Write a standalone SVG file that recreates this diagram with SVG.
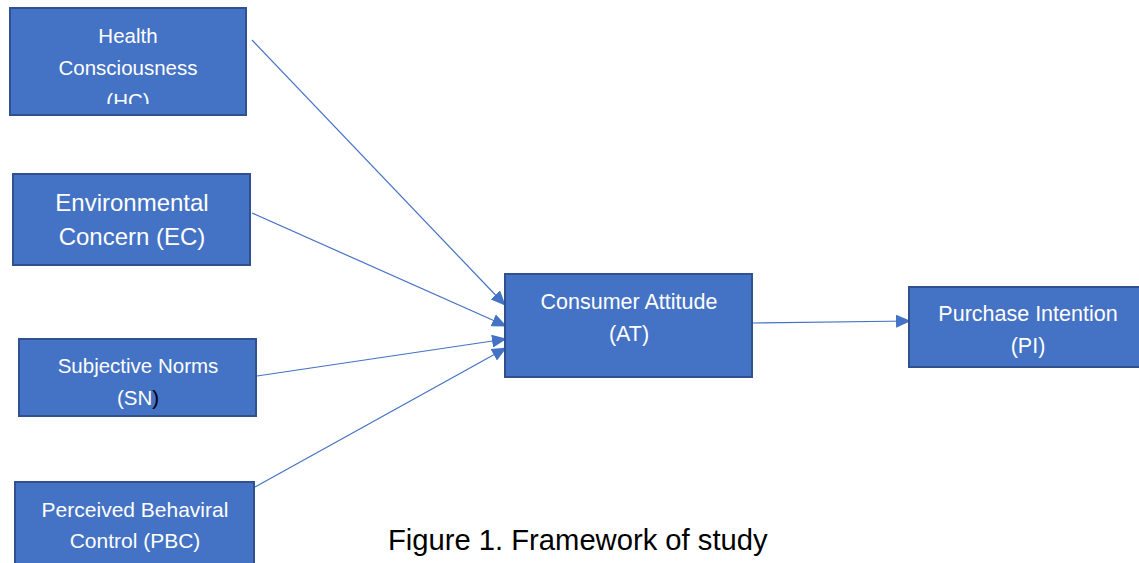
<svg xmlns="http://www.w3.org/2000/svg" width="1139" height="563" viewBox="0 0 1139 563">
  <style>
    .box { fill: #4472C4; stroke: #2F528F; stroke-width: 2; }
    .lbl { font-family: "Liberation Sans", Arial, sans-serif; fill: #ffffff; text-anchor: middle; font-size: 20.5px; }
    .conn { stroke: #4472C4; stroke-width: 1.2; fill: none; marker-end: url(#arr); }
    .cap { font-family: "Liberation Sans", Arial, sans-serif; fill: #000000; font-size: 29.2px; }
  </style>
  <defs>
    <marker id="arr" markerWidth="15" markerHeight="13" refX="14" refY="6.5" orient="auto" markerUnits="userSpaceOnUse">
      <path d="M0,0 L15,6.5 L0,13 Z" fill="#4472C4"/>
    </marker>
    <clipPath id="hcclip"><rect x="10" y="8" width="236" height="96"/></clipPath>
  </defs>
  <rect width="1139" height="563" fill="#ffffff"/>

  <g id="connectors">
    <line class="conn" x1="252" y1="40" x2="505" y2="305"/>
    <line class="conn" x1="252" y1="213" x2="506" y2="326"/>
    <line class="conn" x1="257" y1="376" x2="506" y2="339"/>
    <line class="conn" x1="255" y1="487" x2="506" y2="348"/>
    <line class="conn" x1="752" y1="323" x2="910" y2="321"/>
  </g>

  <g id="hc">
    <rect class="box" x="10" y="8" width="236" height="107"/>
    <g clip-path="url(#hcclip)">
      <text class="lbl" x="128" y="43">Health</text>
      <text class="lbl" x="128" y="75">Consciousness</text>
      <text class="lbl" x="128" y="108">(HC)</text>
    </g>
  </g>

  <g id="ec">
    <rect class="box" x="13" y="174" width="237" height="91"/>
    <text class="lbl" x="132" y="211" style="font-size:24px">Environmental</text>
    <text class="lbl" x="132" y="245" style="font-size:24px">Concern (EC)</text>
  </g>

  <g id="sn">
    <rect class="box" x="19" y="339" width="237" height="77"/>
    <text class="lbl" x="138" y="373">Subjective Norms</text>
    <text class="lbl" x="138" y="405">(SN<tspan fill="#000000">)</tspan></text>
  </g>

  <g id="pbc">
    <rect class="box" x="15" y="482" width="239" height="90"/>
    <text class="lbl" x="135" y="517" style="font-size:21px">Perceived Behaviral</text>
    <text class="lbl" x="135" y="548" style="font-size:21px">Control (PBC)</text>
  </g>

  <g id="at">
    <rect class="box" x="505" y="274" width="247" height="103"/>
    <text class="lbl" x="629" y="309" style="font-size:21.5px">Consumer Attitude</text>
    <text class="lbl" x="629" y="341" style="font-size:21.5px">(AT)</text>
  </g>

  <g id="pi">
    <rect class="box" x="909" y="287" width="240" height="80"/>
    <text class="lbl" x="1028" y="321" style="font-size:21.5px">Purchase Intention</text>
    <text class="lbl" x="1028" y="353" style="font-size:21.5px">(PI)</text>
  </g>

  <text class="cap" x="388" y="550">Figure 1. Framework of study</text>
</svg>
